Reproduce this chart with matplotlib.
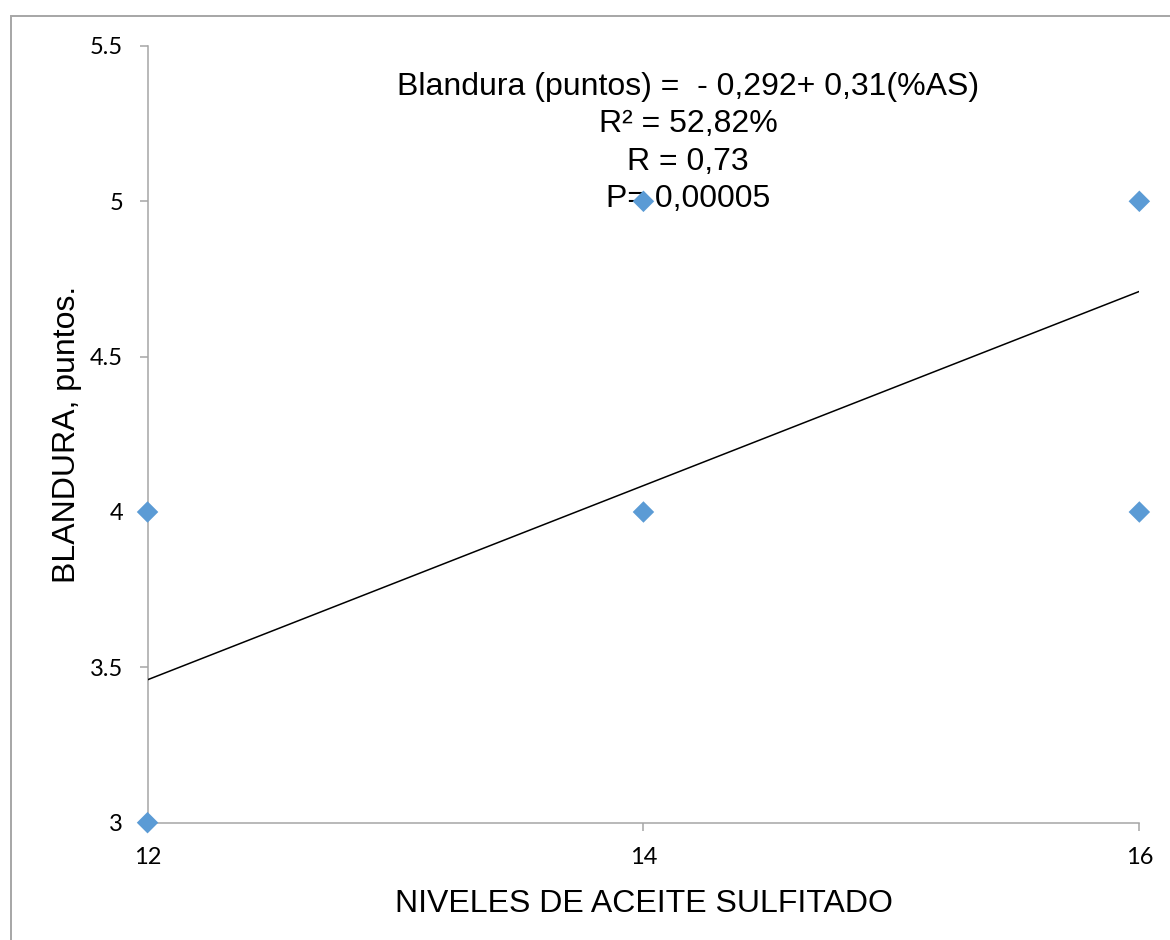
import matplotlib.pyplot as plt
from matplotlib.patches import Rectangle

# niveles de aceite sulfitado (%) y blandura observada (puntos)
niveles = [12, 12, 14, 14, 16, 16]
blandura = [4, 3, 5, 4, 5, 4]

# extremos de la linea de tendencia
tendencia_x = [12, 16]
tendencia_y = [3.46, 4.71]

x_ticks = [12, 14, 16]
y_ticks = [3, 3.5, 4, 4.5, 5, 5.5]
y_labels = ['3', '3.5', '4', '4.5', '5', '5.5']

ecuacion = ('Blandura (puntos) =  - 0,292+ 0,31(%AS)\n'
            'R² = 52,82%\n'
            'R = 0,73\n'
            'P= 0,00005')

fig = plt.figure(figsize=(11.7, 9.4), dpi=100)
ax = fig.add_axes([0.1261, 0.1248, 0.8477, 0.8263])

gris = '#a6a6a6'
azul = '#5b9bd5'

ax.plot(tendencia_x, tendencia_y, color='black', linewidth=1.1, zorder=3)
ax.scatter(niveles, blandura, marker='D', s=120, color=azul,
           edgecolors='none', zorder=4, clip_on=False)

ax.set_xlim(12, 16)
ax.set_ylim(3, 5.5)
ax.set_xticks(x_ticks)
ax.set_yticks(y_ticks)
ax.set_yticklabels(y_labels)

for lado in ['top', 'right']:
    ax.spines[lado].set_visible(False)
for lado in ['left', 'bottom']:
    ax.spines[lado].set_color(gris)
    ax.spines[lado].set_linewidth(1.1)

ax.tick_params(axis='both', direction='out', length=5.5, width=1.1,
               color=gris, labelsize=17, labelcolor='black')
ax.tick_params(axis='x', pad=12)
ax.tick_params(axis='y', pad=12)
for lbl in ax.get_xticklabels() + ax.get_yticklabels():
    lbl.set_fontfamily('Lato')

ax.set_xlabel('NIVELES DE ACEITE SULFITADO', fontsize=23,
              family='Liberation Sans', labelpad=15)
ax.set_ylabel('BLANDURA, puntos.', fontsize=23, family='Liberation Sans')
ax.yaxis.set_label_coords(-0.066, 0.5)

# la ecuacion va debajo de los puntos (el rombo de 14 pisa el texto)
ax.text(688 / 1170, 1 - 72 / 940, ecuacion, transform=fig.transFigure,
        ha='center', va='top', multialignment='center', fontsize=23,
        family='Liberation Sans', linespacing=1.32, zorder=2)

# marco del grafico
marco = Rectangle((10.5 / 1170, -0.1), 1.2, 1 - 15.5 / 940 + 0.1,
                  transform=fig.transFigure, fill=False,
                  edgecolor=gris, linewidth=1.4)
fig.patches.append(marco)

fig.savefig('out.png', dpi=100)
